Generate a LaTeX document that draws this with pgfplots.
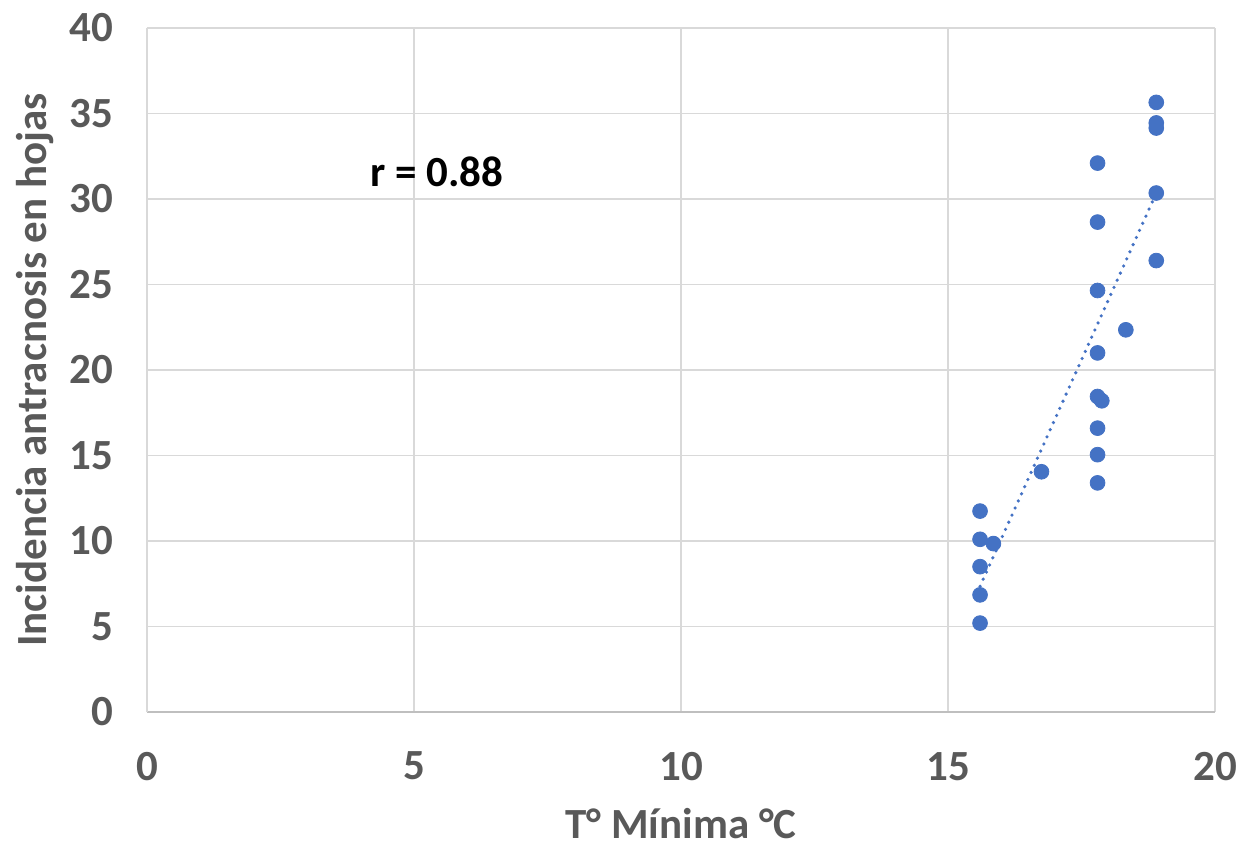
\documentclass[border=0pt]{standalone}
\usepackage{pgfplots}
\pgfplotsset{compat=1.18}
\usepackage{fontspec}
\setmainfont{Carlito}
\definecolor{ptblue}{HTML}{4472C4}
\definecolor{txtgray}{HTML}{595959}
\definecolor{gridgray}{HTML}{D9D9D9}
\definecolor{axgray}{HTML}{BFBFBF}

\pgfplotstableread{
x y
15.6 11.75
15.6 10.1
15.6 8.5
15.6 6.85
15.6 5.2
15.85 9.85
16.75 14.05
17.8 32.1
17.8 28.65
17.8 24.65
17.8 21.0
17.8 18.45
17.88 18.2
17.8 16.6
17.8 15.05
17.8 13.4
18.33 22.35
18.9 35.65
18.9 34.45
18.9 34.15
18.9 30.35
18.9 26.4
}\datatable

\begin{document}
\begin{tikzpicture}
\begin{axis}[
    scale only axis,
    width=534pt, height=342pt,
    xmin=0, xmax=20, ymin=0, ymax=40,
    xtick={0,5,...,20}, ytick={0,5,...,40},
    grid=major,
    grid style={gridgray, line width=0.8pt},
    axis x line*=bottom, axis y line*=left,
    x axis line style={axgray, line width=0.8pt, -},
    y axis line style={gridgray, line width=0.8pt, -},
    major tick length=0pt,
    tick label style={font=\fontsize{21.5}{25}\selectfont\bfseries, text=txtgray},
    /pgf/number format/assume math mode=true,
    xticklabel style={yshift=-16.5pt},
    yticklabel style={xshift=-13.5pt},
    xlabel={T° Mínima °C},
    ylabel={Incidencia antracnosis en hojas},
    label style={font=\fontsize{21.5}{25}\selectfont\bfseries, text=txtgray},
    xlabel style={inner sep=0pt, yshift=-10.5pt},
    ylabel style={yshift=1pt},
    clip=false,
]
\addplot[only marks, mark=*, mark size=3.7pt, mark options={fill=ptblue, draw=ptblue}] table[x=x, y=y] {\datatable};
\addplot[ptblue, line width=1.8pt, line cap=round, dash pattern=on 0pt off 3.9pt] coordinates {(15.6,7.35) (18.9,30.35)};
\node[font=\fontsize{21.5}{25}\selectfont\bfseries, text=black] at (axis cs:5.43,31.6) {r = 0.88};
\end{axis}
\pgfresetboundingbox
\path[use as bounding box] ([shift={(-73.5pt,-65pt)}]current axis.south west) rectangle ([shift={(12.5pt,14pt)}]current axis.north east);
\end{tikzpicture}
\end{document}
